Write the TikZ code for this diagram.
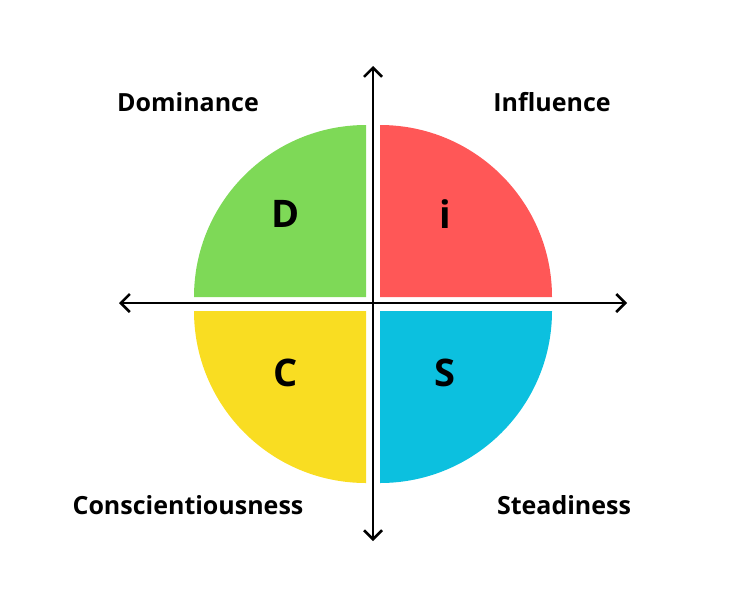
\documentclass[tikz,border=0pt]{standalone}
\usepackage{fontspec}
\setmainfont{Open Sans}
\usetikzlibrary{arrows.meta, positioning}
\definecolor{discgreen}{HTML}{7ED957}
\definecolor{discred}{HTML}{FF5757}
\definecolor{discyellow}{HTML}{F9DD22}
\definecolor{discblue}{HTML}{0CC0DF}
\begin{document}
\begin{tikzpicture}[x=1pt, y=-1pt, >={Straight Barb[length=9pt, width=18pt, line width=2.5pt]},
    axis/.style={->, line width=2.5pt},
    letter/.style={font=\bfseries\fontsize{38}{38}\selectfont},
    trait/.style={font=\bfseries\fontsize{25}{25}\selectfont}]

    \useasboundingbox (0,0) rectangle (746,598);

    % Quadrants
    \fill[discgreen] (366,297) -- (194,297) arc[start angle=180, end angle=270, radius=172] -- cycle;
    \fill[discred] (380,297) -- (380,125) arc[start angle=270, end angle=360, radius=172] -- cycle;
    \fill[discyellow] (366,311) -- (366,483) arc[start angle=90, end angle=180, radius=172] -- cycle;
    \fill[discblue] (380,311) -- (552,311) arc[start angle=0, end angle=90, radius=172] -- cycle;

    % Axes
    \coordinate (left) at (119,303);
    \coordinate (right) at (627,303);
    \coordinate (top) at (373,66);
    \coordinate (bottom) at (373,541);
    \draw[axis] (373,303) -- (left);
    \draw[axis] (373,303) -- (right);
    \draw[axis] (373,303) -- (top);
    \draw[axis] (373,303) -- (bottom);

    % Letters
    \node (d) [letter] at (286,214) {D};
    \node (i) [letter] at (445,214) {i};
    \node (c) [letter] at (286,373) {C};
    \node (s) [letter] at (445,373) {S};

    % Traits
    \node (dom) [trait] at (188,102) {Dominance};
    \node (inf) [trait] at (552,102) {Influence};
    \node (con) [trait] at (188,505) {Conscientiousness};
    \node (ste) [trait] at (564,505) {Steadiness};

\end{tikzpicture}
\end{document}
